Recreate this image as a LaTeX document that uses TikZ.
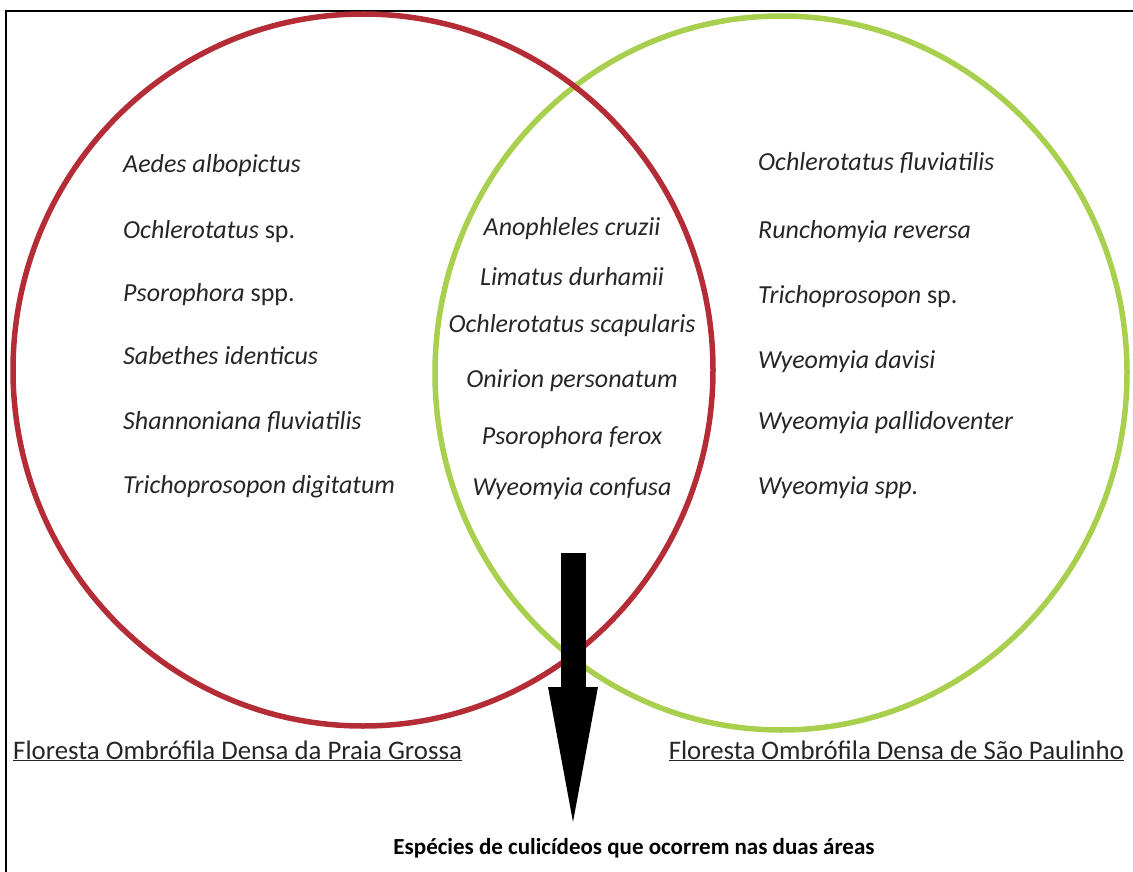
\documentclass[tikz,border=0pt]{standalone}
\usepackage{fontspec}
\setmainfont{Carlito}
\usetikzlibrary{arrows.meta,positioning}

\definecolor{praiared}{RGB}{180,44,54}
\definecolor{paulgreen}{RGB}{168,207,78}

\begin{document}
\begin{tikzpicture}[x=1pt, y=-1pt,
        every node/.style={font=\fontsize{26}{30}\selectfont, text=black!85, inner sep=0pt,
                           text height=18pt, text depth=6pt},
        especie/.style={anchor=west, font=\fontsize{26}{30}\selectfont\itshape},
        comum/.style={anchor=center, font=\fontsize{26}{30}\selectfont\itshape},
        area/.style={font=\fontsize{26.8}{30}\selectfont},
    ]
        \useasboundingbox (0,0) rectangle (1133,872);

        % Frame
        \draw[line width=2.8pt] (6,11) rectangle (1150,890);

        % Areas
        \draw[paulgreen, line width=5.5pt] (781,373) ellipse [x radius=346pt, y radius=357pt];
        \draw[praiared, line width=5.5pt] (363,370) ellipse [x radius=350pt, y radius=356pt];

        % Praia Grossa only
        \node[especie] (pg1) at (123,166) {Aedes albopictus};
        \node[especie] (pg2) at (123,232) {Ochlerotatus \upshape sp.};
        \node[especie] (pg3) at (123,295) {Psorophora \upshape spp.};
        \node[especie] (pg4) at (123,358) {Sabethes identicus};
        \node[especie] (pg5) at (123,423) {Shannoniana fluviatilis};
        \node[especie] (pg6) at (123,487) {Trichoprosopon digitatum};

        % Both areas
        \node[comum] (am1) at (572,229) {Anophleles cruzii};
        \node[comum] (am2) at (572,279) {Limatus durhamii};
        \node[comum] (am3) at (572,326) {Ochlerotatus scapularis};
        \node[comum] (am4) at (572,381) {Onirion personatum};
        \node[comum] (am5) at (572,438) {Psorophora ferox};
        \node[comum] (am6) at (572,489) {Wyeomyia confusa};

        % Sao Paulinho only
        \node[especie] (sp1) at (758,165) {Ochlerotatus fluviatilis};
        \node[especie] (sp2) at (758,232) {Runchomyia reversa};
        \node[especie] (sp3) at (758,297) {Trichoprosopon \upshape sp.};
        \node[especie] (sp4) at (758,362) {Wyeomyia davisi};
        \node[especie] (sp5) at (758,423) {Wyeomyia pallidoventer};
        \node[especie] (sp6) at (758,488) {Wyeomyia spp.};

        % Area names
        \node[area, anchor=west] (nomepg) at (13,753) {\underline{Floresta Ombrófila Densa da Praia Grossa}};
        \node[area, anchor=east] (nomesp) at (1124,753) {\underline{Floresta Ombrófila Densa de São Paulinho}};

        % Caption
        \node[font=\fontsize{23}{28}\selectfont\bfseries, text=black] (legenda) at (634,848)
              {Espécies de culicídeos que ocorrem nas duas áreas};

        % Arrow
        \coordinate (topo) at (573,553);
        \coordinate (ponta) at (573,822);
        \draw[line width=25pt, -{Triangle[width=50pt, length=135pt, line width=0pt]}] (topo) -- (ponta);
    \end{tikzpicture}
\end{document}
